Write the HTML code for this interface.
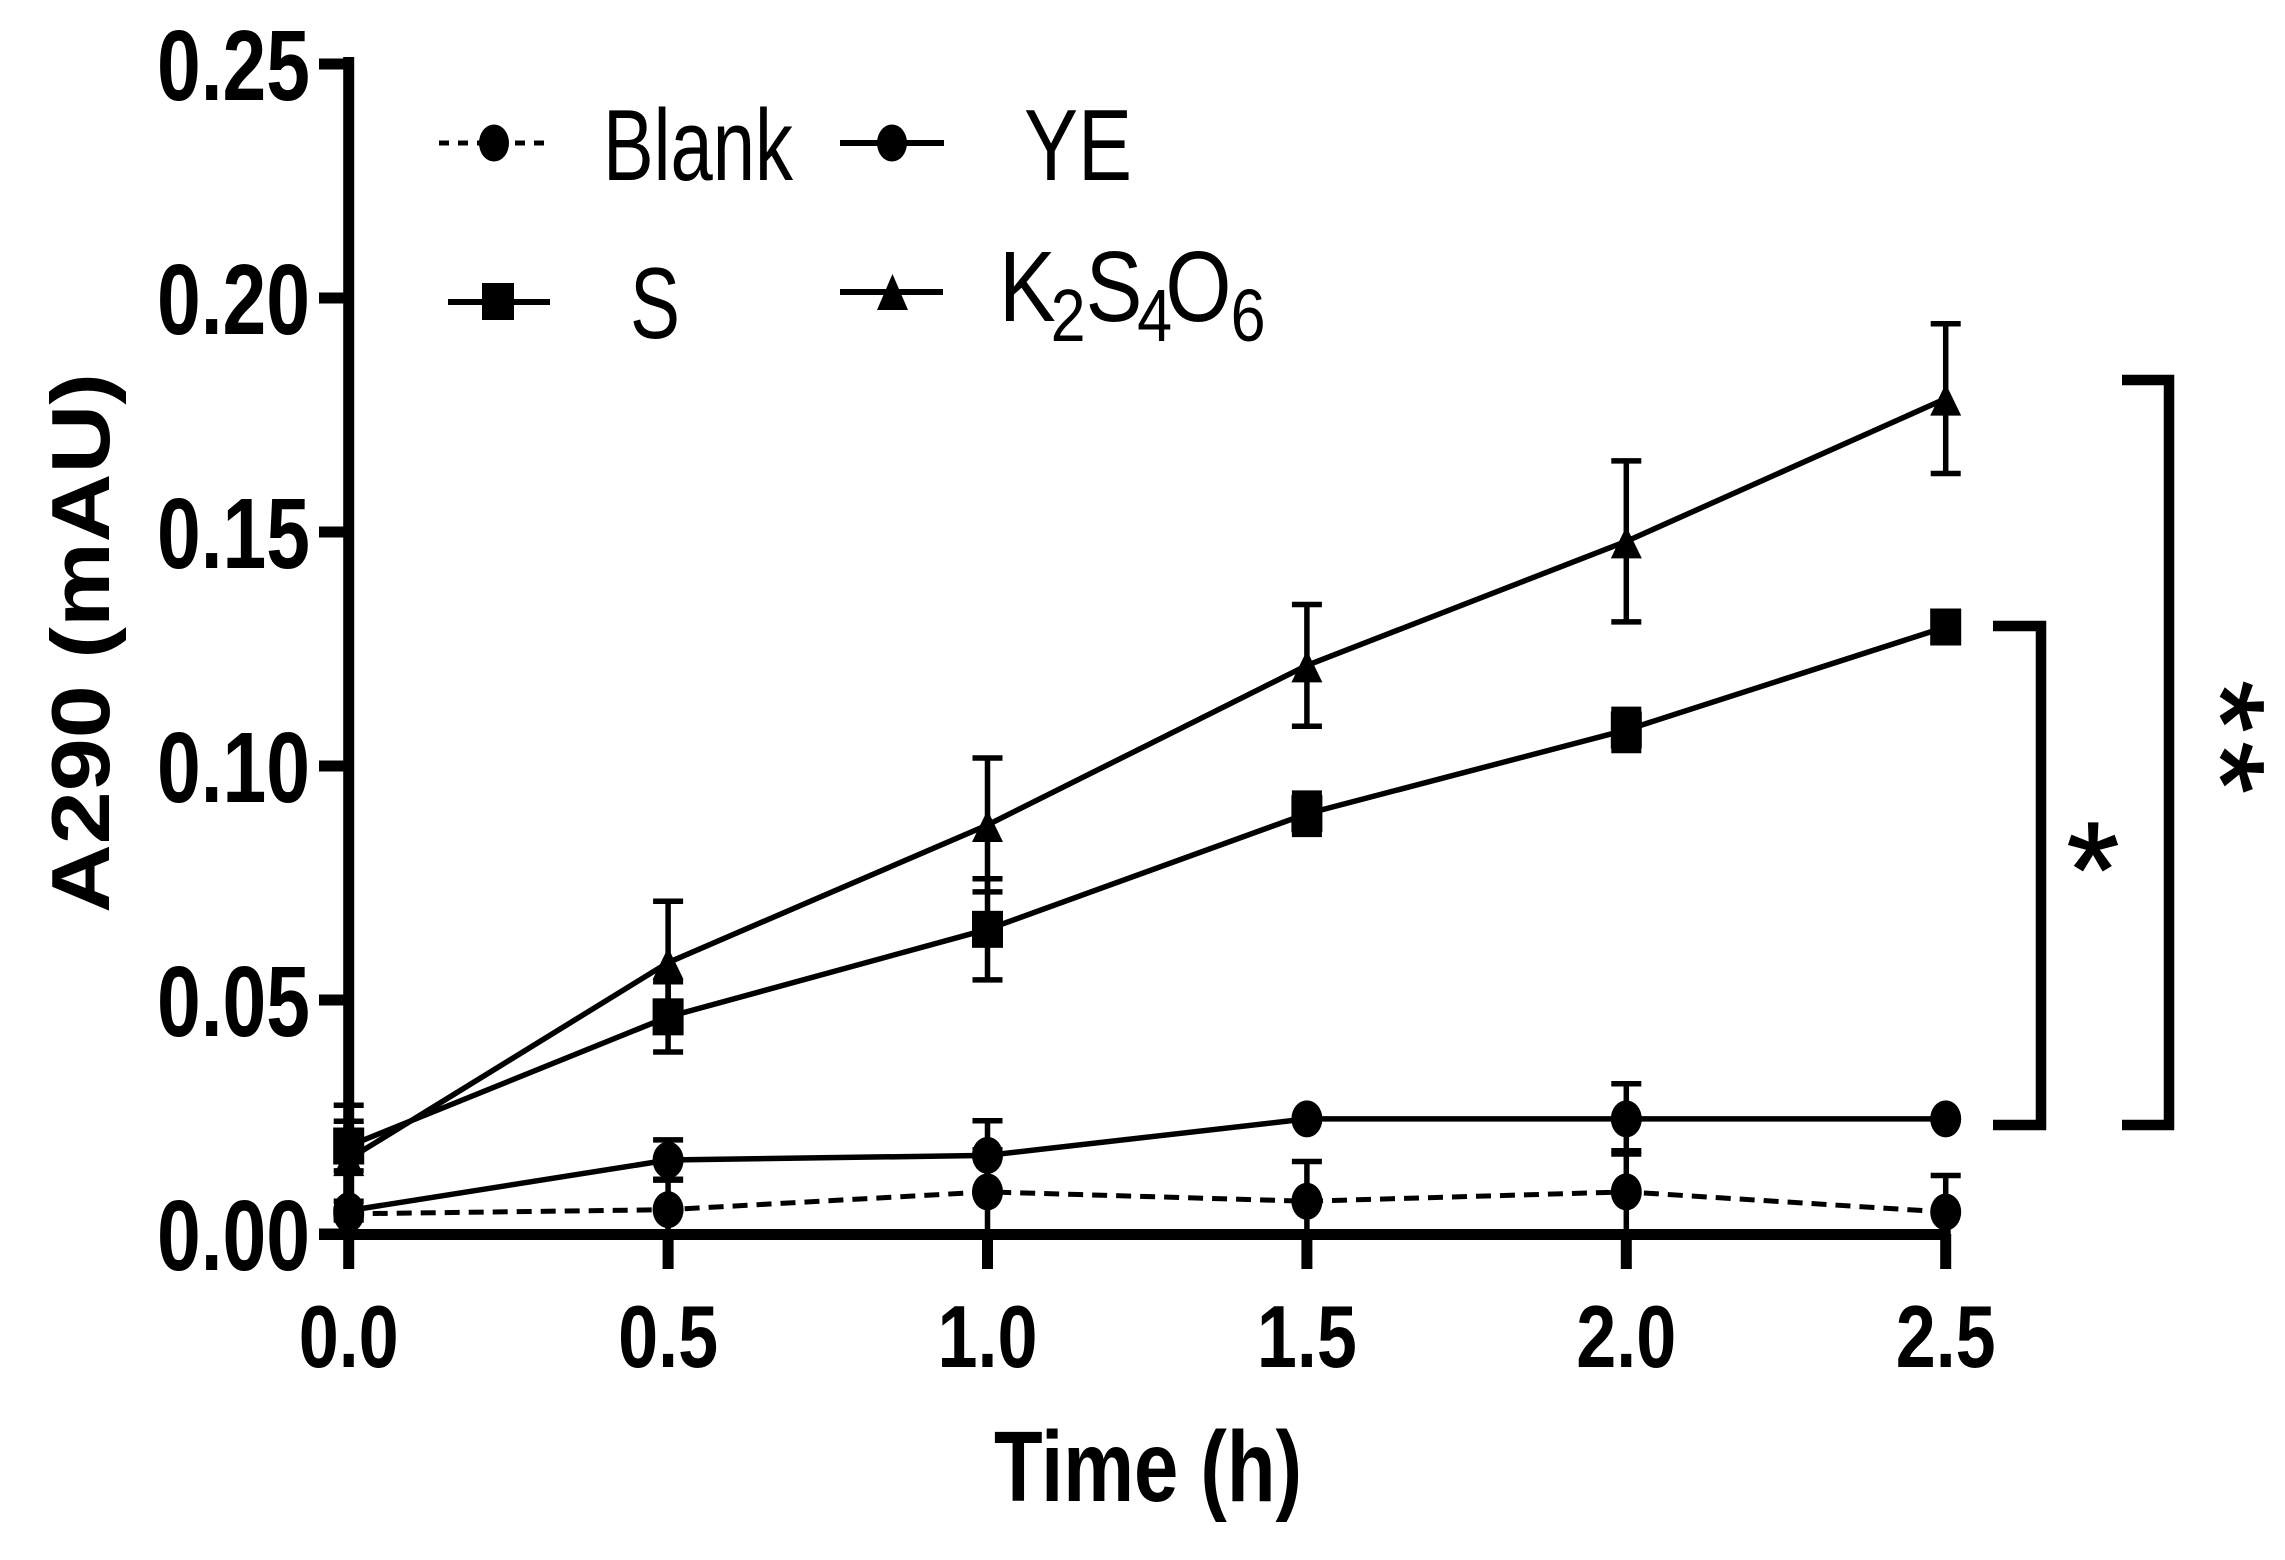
<!DOCTYPE html>
<html lang="en">
<head>
<meta charset="utf-8">
<title>A290 over time</title>
<style>
html,body{margin:0;padding:0;background:#fff;}
svg{display:block;}
text{fill:#000;font-family:"Liberation Sans",sans-serif;}
.b{font-weight:bold;}
</style>
</head>
<body>
<svg id="chart" xmlns="http://www.w3.org/2000/svg" width="2285" height="1560" viewBox="0 0 2285 1560">
  <rect x="0" y="0" width="2285" height="1560" fill="#fff"/>
  <g id="series-layer"></g>
  <g id="axes-layer"></g>

  <text class="b" x="994" y="1501" font-size="100" textLength="308" lengthAdjust="spacingAndGlyphs">Time (h)</text>
  <text class="b" transform="translate(109,913) rotate(-90)" x="0" y="0" font-size="83" textLength="540" lengthAdjust="spacingAndGlyphs">A290 (mAU)</text>

  <g>
    <g>
      <line x1="439" y1="143" x2="547" y2="143" stroke="#000" stroke-width="5" stroke-dasharray="10 9"/>
      <ellipse cx="494" cy="143" rx="15" ry="18.5"/>
      <text x="603" y="180" font-size="101" textLength="190" lengthAdjust="spacingAndGlyphs">Blank</text>
    </g>
    <g>
      <line x1="840" y1="143" x2="944" y2="143" stroke="#000" stroke-width="6"/>
      <ellipse cx="892" cy="143" rx="15" ry="18.5"/>
      <text x="1024" y="180" font-size="101" textLength="108" lengthAdjust="spacingAndGlyphs">YE</text>
    </g>
    <g>
      <line x1="448" y1="302" x2="550" y2="302" stroke="#000" stroke-width="6"/>
      <rect x="482" y="283" width="32" height="37"/>
      <text x="630" y="338" font-size="101" textLength="50" lengthAdjust="spacingAndGlyphs">S</text>
    </g>
    <g>
      <line x1="840" y1="292" x2="943" y2="292" stroke="#000" stroke-width="6"/>
      <polygon points="892.5,274 908,310 877,310"/>
      <text transform="translate(999,321) scale(0.85,1)" x="0" y="0" font-size="100">K<tspan font-size="74" dy="20" dx="-6">2</tspan><tspan dy="-20" dx="0">S</tspan><tspan font-size="74" dy="20" dx="-6">4</tspan><tspan dy="-20" dx="-8">O</tspan><tspan font-size="74" dy="20" dx="-1">6</tspan></text>
    </g>
  </g>

  <g>
    <path d="M1993 626 H2041 V1125 H1993" fill="none" stroke="#000" stroke-width="10.5"/>
    <path d="M2122 380 H2169 V1125 H2122" fill="none" stroke="#000" stroke-width="10.5"/>
    <text x="2093" y="916" font-size="135" text-anchor="middle" stroke="#000" stroke-width="1.5">*</text>
    <text transform="translate(2180,737) rotate(90) scale(1.16,1.05)" x="4" y="0" font-size="115" letter-spacing="8" text-anchor="middle" stroke="#000" stroke-width="1.5">**</text>
  </g>
</svg>
<script>
const xCategories = [0, 0.5, 1.0, 1.5, 2.0, 2.5];
const xTickLabels = ['0.0', '0.5', '1.0', '1.5', '2.0', '2.5'];
const yTickValues = [0, 0.05, 0.10, 0.15, 0.20, 0.25];
const yTickLabels = ['0.00', '0.05', '0.10', '0.15', '0.20', '0.25'];

const blankValues = [0.0043, 0.0052, 0.0090, 0.0070, 0.0090, 0.0047];
const blankErrors = [0.0010, 0.0065, 0.0090, 0.0085, 0.0088, 0.0078];
const yeValues = [0.0050, 0.0158, 0.0168, 0.0246, 0.0246, 0.0246];
const yeErrors = [0.0020, 0.0043, 0.0074, 0, 0.0075, 0];
const sValues = [0.0188, 0.0464, 0.0651, 0.0898, 0.1077, 0.1297];
const sErrors = [0.0053, 0.0075, 0.0108, 0.0044, 0.0044, 0];
const kValues = [0.0160, 0.0580, 0.0874, 0.1215, 0.1480, 0.1785];
const kErrors = [0.0115, 0.0131, 0.0143, 0.0130, 0.0172, 0.0160];

const NS = 'http://www.w3.org/2000/svg';
const xScale = function (v) { return 348.7 + v * 638.8; };
const yScale = function (v) { return 1234 - v * 4680; };
const seriesLayer = document.getElementById('series-layer');
const axesLayer = document.getElementById('axes-layer');

function make(tag, name, parent) {
  const el = document.createElementNS(NS, tag);
  
  
  parent.appendChild(el);
  return el;
}

function drawLine(name, values, dashed) {
  const line = make('polyline', name + '-line', seriesLayer);
  line.setAttribute('points', values.map(function (v, i) { return xScale(xCategories[i]) + ',' + yScale(v); }).join(' '));
  line.setAttribute('fill', 'none');
  line.setAttribute('stroke', '#000');
  line.setAttribute('stroke-width', dashed ? 5 : 5.5);
  if (dashed) line.setAttribute('stroke-dasharray', '15 9');
}

function drawErrors(name, values, errors) {
  values.forEach(function (v, i) {
    if (!errors[i]) return;
    const x = xScale(xCategories[i]);
    const top = yScale(v + errors[i]);
    const clipped = v - errors[i] < 0;
    const bottom = yScale(Math.max(v - errors[i], 0));
    const bar = make('path', name + '-error-bar-' + i, seriesLayer);
    let d = 'M' + x + ' ' + top + 'V' + bottom + 'M' + (x - 15) + ' ' + top + 'H' + (x + 15);
    if (!clipped) d += 'M' + (x - 15) + ' ' + bottom + 'H' + (x + 15);
    bar.setAttribute('d', d);
    bar.setAttribute('fill', 'none');
    bar.setAttribute('stroke', '#000');
    bar.setAttribute('stroke-width', 5.5);
  });
}

function drawMarkers(name, values, shape) {
  values.forEach(function (v, i) {
    const x = xScale(xCategories[i]);
    const y = yScale(v);
    let m;
    if (shape === 'circle') {
      m = make('ellipse', name + '-point-' + i, seriesLayer);
      m.setAttribute('cx', x);
      m.setAttribute('cy', y);
      m.setAttribute('rx', 15.5);
      m.setAttribute('ry', 18.5);
    } else if (shape === 'square') {
      m = make('rect', name + '-point-' + i, seriesLayer);
      m.setAttribute('x', x - 15.5);
      m.setAttribute('y', y - 18.5);
      m.setAttribute('width', 31);
      m.setAttribute('height', 37);
    } else {
      m = make('polygon', name + '-point-' + i, seriesLayer);
      m.setAttribute('points', x + ',' + (y - 15) + ' ' + (x + 15.5) + ',' + (y + 17) + ' ' + (x - 15.5) + ',' + (y + 17));
    }
    m.setAttribute('fill', '#000');
  });
}

drawLine('blank', blankValues, true);
drawLine('ye', yeValues, false);
drawLine('s', sValues, false);
drawLine('k2s4o6', kValues, false);
drawErrors('blank', blankValues, blankErrors);
drawErrors('ye', yeValues, yeErrors);
drawErrors('s', sValues, sErrors);
drawErrors('k2s4o6', kValues, kErrors);
drawMarkers('blank', blankValues, 'circle');
drawMarkers('ye', yeValues, 'circle');
drawMarkers('s', sValues, 'square');
drawMarkers('k2s4o6', kValues, 'triangle');

const yAxis = make('line', 'y-axis-line', axesLayer);
yAxis.setAttribute('x1', xScale(0));
yAxis.setAttribute('x2', xScale(0));
yAxis.setAttribute('y1', yScale(0.25) - 7);
yAxis.setAttribute('y2', yScale(0) + 5);
yAxis.setAttribute('stroke', '#000');
yAxis.setAttribute('stroke-width', 11);

const xAxis = make('line', 'x-axis-line', axesLayer);
xAxis.setAttribute('x1', 319);
xAxis.setAttribute('x2', xScale(2.5) + 5);
xAxis.setAttribute('y1', yScale(0) + 0.5);
xAxis.setAttribute('y2', yScale(0) + 0.5);
xAxis.setAttribute('stroke', '#000');
xAxis.setAttribute('stroke-width', 11);

yTickValues.forEach(function (v, i) {
  const y = yScale(v);
  const tick = make('line', 'y-tick-' + yTickLabels[i], axesLayer);
  tick.setAttribute('x1', 319);
  tick.setAttribute('x2', xScale(0));
  tick.setAttribute('y1', y);
  tick.setAttribute('y2', y);
  tick.setAttribute('stroke', '#000');
  tick.setAttribute('stroke-width', 11);
  const label = make('text', 'y-tick-label-' + yTickLabels[i], axesLayer);
  label.setAttribute('class', 'b');
  label.setAttribute('x', 157);
  label.setAttribute('y', y + 36);
  label.setAttribute('font-size', 100);
  label.setAttribute('textLength', 153);
  label.setAttribute('lengthAdjust', 'spacingAndGlyphs');
  label.textContent = yTickLabels[i];
});

xCategories.forEach(function (v, i) {
  const x = xScale(v);
  const tick = make('line', 'x-tick-' + xTickLabels[i], axesLayer);
  tick.setAttribute('x1', x);
  tick.setAttribute('x2', x);
  tick.setAttribute('y1', yScale(0));
  tick.setAttribute('y2', 1269);
  tick.setAttribute('stroke', '#000');
  tick.setAttribute('stroke-width', 11);
  const label = make('text', 'x-tick-label-' + xTickLabels[i], axesLayer);
  label.setAttribute('class', 'b');
  label.setAttribute('x', x - 50);
  label.setAttribute('y', 1367);
  label.setAttribute('font-size', 88);
  label.setAttribute('textLength', 100);
  label.setAttribute('lengthAdjust', 'spacingAndGlyphs');
  label.textContent = xTickLabels[i];
});
</script>
</body>
</html>
